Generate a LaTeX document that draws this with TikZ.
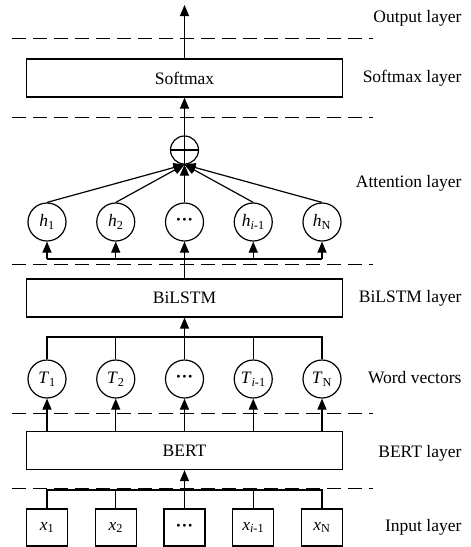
\documentclass[tikz,border=0pt]{standalone}
\usepackage{fontspec}
\setmainfont{Liberation Serif}
\usetikzlibrary{arrows.meta}
\newcommand{\vsub}[2]{\textit{#1}\textsubscript{#2}}
\newcommand{\mdots}{\textbf{···}}

\begin{document}
\begin{tikzpicture}[x=1pt,y=-1pt,line width=1.2pt,
  >={Triangle[width=9pt,length=11pt]},
  every node/.style={font=\fontsize{17.5}{21}\selectfont},
  layer/.style={draw,minimum width=316pt,minimum height=38pt,inner sep=0pt},
  unit/.style={draw,circle,minimum size=38pt,inner sep=0pt},
  word/.style={draw,minimum width=41pt,minimum height=37pt,inner sep=0pt},
  sep/.style={dash pattern=on 14pt off 7pt,line width=1pt},
  tag/.style={anchor=east,inner sep=0pt}]
  \useasboundingbox (0,0) rectangle (471,547);

  % separators between the layers
  \foreach \y in {38,117,264,413,488}
    \draw[sep] (12,\y) -- (373,\y);

  % boxes
  \node[layer] (softmax) at (184.5,78) {Softmax};
  \node[layer] (bilstm) at (184.5,298) {BiLSTM};
  \node[layer] (bert) at (184.5,450.5) {BERT};
  \node[draw,circle,minimum size=28pt,inner sep=0pt] (sum) at (184.5,150) {};
  \draw (sum.north) -- (sum.south) (sum.west) -- (sum.east);

  \foreach \lab [count=\i] in {\vsub{h}{1},\vsub{h}{2},\mdots,\vsub{h}{\textit{i}-1},\vsub{h}{N}}
    \node[unit] (h\i) at ({47+68.75*(\i-1)},222) {\lab};
  \foreach \lab [count=\i] in {\vsub{T}{1},\vsub{T}{2},\mdots,\vsub{T}{\textit{i}-1},\vsub{T}{N}}
    \node[unit] (T\i) at ({47+68.75*(\i-1)},379) {\lab};
  \foreach \lab [count=\i] in {\vsub{x}{1},\vsub{x}{2},\mdots,\vsub{x}{\textit{i}-1},\vsub{x}{N}}
    \node[word] (x\i) at ({47+68.75*(\i-1)},527.5) {\lab};

  % layer names
  \node[tag] (lout) at (462,18) {Output layer};
  \node[tag] (lsoft) at (462,78) {Softmax layer};
  \node[tag] (latt) at (462,183) {Attention layer};
  \node[tag] (lbi) at (462,298) {BiLSTM layer};
  \node[tag] (lword) at (462,378) {Word vectors};
  \node[tag] (lbert) at (462,453) {BERT layer};
  \node[tag] (lin) at (462,527) {Input layer};

  \coordinate (out) at (184.5,5);
  \coordinate (hbus) at (184.5,259);
  \coordinate (tbus) at (184.5,337);
  \coordinate (xbus) at (184.5,490);

  % connections
  \draw[->] (softmax) -- (out);
  \draw[->] (sum.north) -- (softmax);
  \foreach \i in {1,...,5}
    \draw[->] (h\i.north) -- (sum.south);

  \draw (bilstm) -- (hbus);
  \draw (h1|-hbus) -- (h5|-hbus);
  \foreach \i in {1,...,5}
    \draw[->] (h\i|-hbus) -- (h\i.south);

  \draw (T1.north) |- (tbus) -| (T5.north);
  \foreach \i in {2,3,4}
    \draw (T\i.north) -- (T\i|-tbus);
  \draw[->] (tbus) -- (bilstm);

  \foreach \i in {1,...,5}
    \draw[->] (T\i|-bert.north) -- (T\i.south);

  \draw (x1.north) |- (xbus) -| (x5.north);
  \foreach \i in {2,3,4}
    \draw (x\i.north) -- (x\i|-xbus);
  \draw[->] (xbus) -- (bert);
\end{tikzpicture}
\end{document}
